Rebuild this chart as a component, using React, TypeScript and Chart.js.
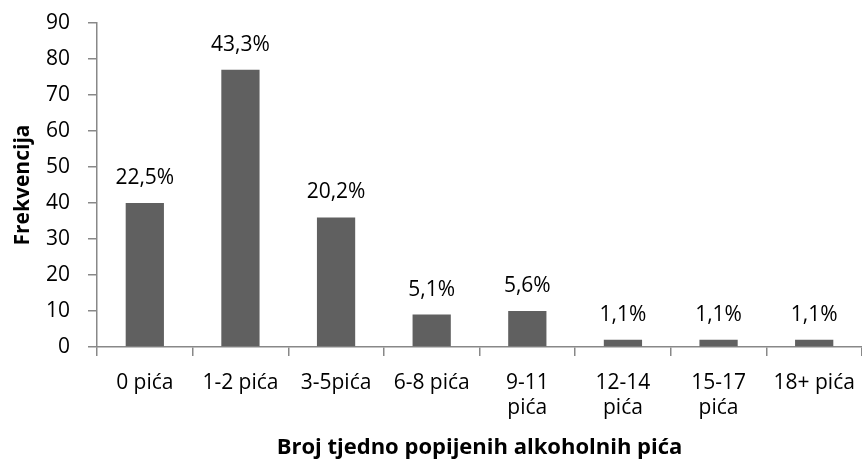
import React, { useEffect, useRef } from "react";
import { Chart, registerables } from "chart.js";

Chart.register(...registerables);

const categories: (string | string[])[] = [
  "0 pića",
  "1-2 pića",
  "3-5pića",
  "6-8 pića",
  ["9-11", "pića"],
  ["12-14", "pića"],
  ["15-17", "pića"],
  "18+ pića",
];
const frequencies = [40, 77, 36, 9, 10, 2, 2, 2];
const percentLabels = ["22,5%", "43,3%", "20,2%", "5,1%", "5,6%", "1,1%", "1,1%", "1,1%"];
const yTitle = "Frekvencija";
const xTitle = "Broj tjedno popijenih alkoholnih pića";

const FONT = "'Open Sans', sans-serif";
const SIZE = 21;

const labelPlugin = {
  id: "pctLabels",
  afterDatasetsDraw(chart: any) {
    const ctx = chart.ctx;
    const meta = chart.getDatasetMeta(0);
    ctx.save();
    ctx.font = `${SIZE}px ${FONT}`;
    ctx.fillStyle = "#000";
    ctx.textAlign = "center";
    ctx.textBaseline = "alphabetic";
    meta.data.forEach((bar: any, i: number) => {
      ctx.fillText(percentLabels[i], bar.x, bar.y - 19);
    });
    // y axis title
    const area = chart.chartArea;
    ctx.translate(23, (area.top + area.bottom) / 2);
    ctx.rotate(-Math.PI / 2);
    ctx.font = `bold ${SIZE}px ${FONT}`;
    ctx.textBaseline = "middle";
    ctx.fillText(yTitle, 0, 0);
    ctx.restore();
  },
};

export default function App() {
  const ref = useRef<HTMLCanvasElement | null>(null);
  useEffect(() => {
    document.body.style.margin = "0";
    const chart = new Chart(ref.current!, {
      type: "bar",
      data: {
        labels: categories,
        datasets: [
          {
            data: frequencies,
            backgroundColor: "#606060",
            categoryPercentage: 1,
            barPercentage: 0.4,
          },
        ],
      },
      options: {
        animation: false,
        responsive: false,
        layout: { padding: { top: 23, right: 0, bottom: 0, left: 0 } },
        plugins: { legend: { display: false }, tooltip: { enabled: false } },
        scales: {
          x: {
            grid: { drawOnChartArea: false, tickLength: 9, color: "#888", lineWidth: 1.5 },
            border: { color: "#888", width: 1.5 },
            ticks: { color: "#000", font: { family: FONT, size: SIZE }, padding: 14, maxRotation: 0, autoSkip: false },
            title: {
              display: true,
              text: xTitle,
              color: "#000",
              font: { family: FONT, size: 22, weight: "bold" },
              padding: { top: 0, bottom: 7 },
            },
            afterFit: (s: any) => {
              s.height = 121;
              s.paddingLeft = 0;
              s.paddingRight = 0;
            },
          },
          y: {
            min: 0,
            max: 90,
            grid: { drawOnChartArea: false, tickLength: 9, color: "#888", lineWidth: 1.5 },
            border: { color: "#888", width: 1.5 },
            ticks: { stepSize: 10, color: "#000", font: { family: FONT, size: SIZE }, padding: 18 },
            afterFit: (s: any) => {
              s.width = 97;
              s.paddingTop = 0;
              s.paddingBottom = 0;
            },
          },
        },
      },
      plugins: [labelPlugin],
    });
    return () => chart.destroy();
  }, []);
  return <canvas ref={ref} width={862} height={468} style={{ display: "block" }} />;
}
